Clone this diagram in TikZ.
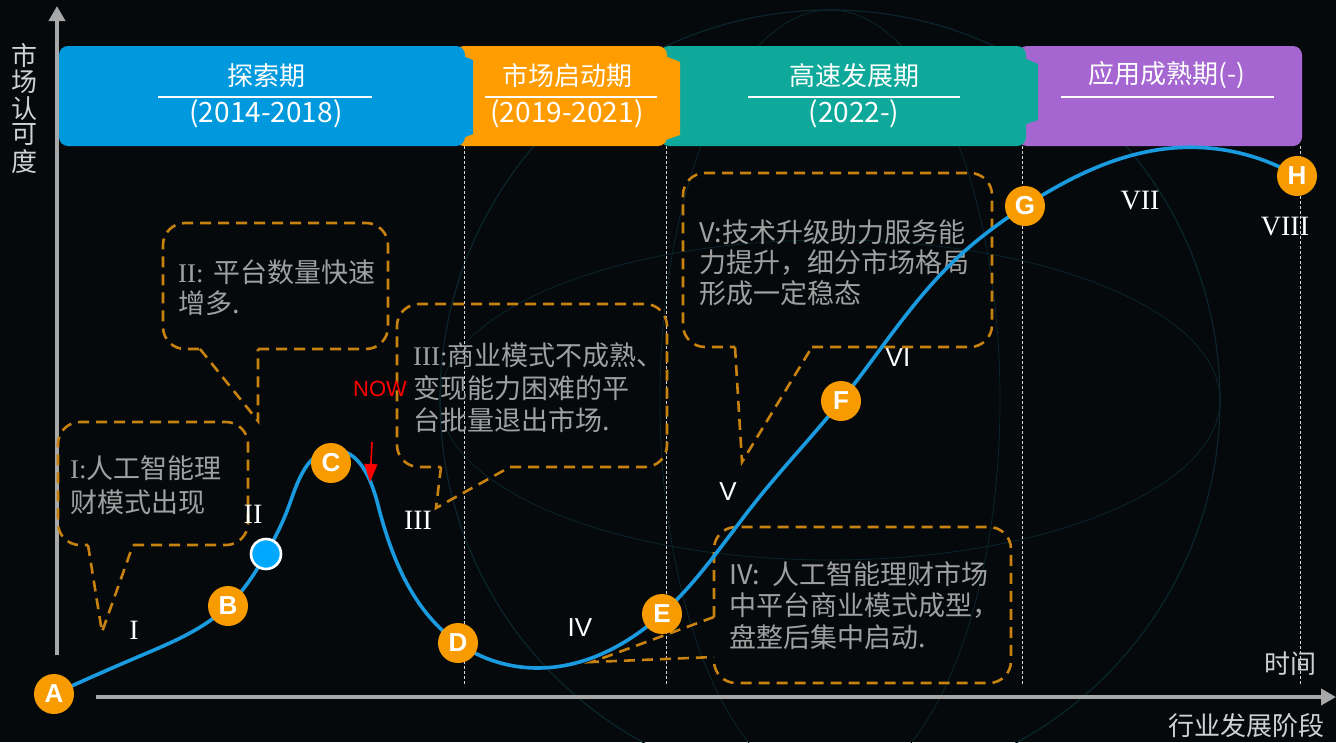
\documentclass[tikz,border=0pt]{standalone}
\usepackage{fontspec}
\setmainfont{Noto Sans CJK SC}
\newfontfamily\cjk{Noto Sans CJK SC}
\newfontfamily\rmn{Liberation Serif}
\newfontfamily\sfn{Liberation Sans}
\usetikzlibrary{arrows.meta,hobby}
\definecolor{bg}{HTML}{05090C}
\definecolor{axisgray}{HTML}{A8A8A8}
\definecolor{hblue}{HTML}{0099DD}
\definecolor{horange}{HTML}{FF9C00}
\definecolor{hteal}{HTML}{0EA99A}
\definecolor{hpurple}{HTML}{A566D1}
\definecolor{curveblue}{HTML}{1A9BE0}
\definecolor{dotorange}{HTML}{F89B00}
\definecolor{calloutc}{HTML}{C8820F}
\definecolor{calltext}{HTML}{A0A0A0}
\definecolor{ptblue}{HTML}{00A9FF}
\definecolor{meshc}{HTML}{0B252D}
\begin{document}
\begin{tikzpicture}[x=1pt,y=-1pt,
  calloutline/.style={draw=calloutc, line width=2.6pt, dash pattern=on 11pt off 7pt},
  boxline/.style={calloutline, rounded corners=22pt},
  ctext/.style={anchor=west, inner sep=0pt, text=calltext, font=\cjk\fontsize{27}{30}\selectfont},
  htext/.style={inner sep=0pt, text=white, font=\cjk\fontsize{26}{30}\selectfont},
  hyear/.style={inner sep=0pt, text=white, font=\cjk\fontsize{28}{30}\selectfont},
  hrule/.style={draw=white, line width=2pt},
  phaseline/.style={draw=white!85!black, line width=0.8pt, dash pattern=on 3pt off 2pt},
  stage/.style={circle, fill=dotorange, minimum size=40pt, inner sep=0pt, text=white, font=\sfn\bfseries\fontsize{26}{26}\selectfont},
  romr/.style={inner sep=0pt, text=white, font=\rmn\fontsize{28}{28}\selectfont},
  roms/.style={inner sep=0pt, text=white, font=\sfn\fontsize{26}{26}\selectfont},
  axisline/.style={draw=axisgray, line width=4pt},
  alabel/.style={inner sep=0pt, text=white!82!black, font=\cjk\fontsize{26}{30}\selectfont},
]
\useasboundingbox (0,0) rectangle (1336,742);
\fill[bg] (0,0) rectangle (1336,742);
% faint globe mesh in the background
\draw[meshc, line width=1.2pt] (830,400) circle (390pt);
\draw[meshc, line width=0.8pt] (830,400) ellipse (390pt and 160pt);
\draw[meshc, line width=0.8pt] (830,400) ellipse (170pt and 390pt);

% header bar
\fill[hpurple, rounded corners=9pt] (1018,46) rectangle (1302,146);
\fill[hteal, rounded corners=9pt] (660,46) rectangle (1026,146);
\fill[hteal] (1024,58) -- (1038,64) -- (1038,120) -- (1024,125) -- cycle;
\fill[horange, rounded corners=9pt] (455,46) rectangle (667,146);
\fill[horange] (665,56) -- (680,62) -- (680,135) -- (665,140) -- cycle;
\fill[hblue, rounded corners=9pt] (59,46) rectangle (465,146);
\fill[hblue] (463,56) -- (473,60) -- (473,134) -- (463,138) -- cycle;

\node[htext] (h1) at (266,76) {探索期};
\draw[hrule] (158,97) -- (372,97);
\node[hyear] (h1y) at (266,114) {(2014-2018)};
\node[htext] (h2) at (567,76) {市场启动期};
\draw[hrule] (485,97) -- (657,97);
\node[hyear] (h2y) at (567,114) {(2019-2021)};
\node[htext] (h3) at (854,76) {高速发展期};
\draw[hrule] (748,97) -- (960,97);
\node[hyear] (h3y) at (854,114) {(2022-)};
\node[htext] (h4) at (1167,75) {应用成熟期(-)};
\draw[hrule] (1061,97) -- (1274,97);

% phase separators
\foreach \px/\nm in {464/s1,666/s2,1022/s3,1300/s4}{
  \coordinate (\nm t) at (\px,146);
  \coordinate (\nm b) at (\px,686);
  \draw[phaseline] (\nm t) -- (\nm b);
}

% axes
\coordinate (yb) at (57,655);
\coordinate (yt) at (57,6);
\coordinate (xl) at (96,697);
\coordinate (xr) at (1336,697);
\draw[axisline, -{Triangle[length=15pt,width=16pt]}] (yb) -- (yt);
\draw[axisline, -{Triangle[length=15pt,width=16pt]}] (xl) -- (xr);
\foreach \ch [count=\i] in {市,场,认,可,度}
  \node[alabel] (ylab\i) at (25,29+26.5*\i) {\ch};
\node[alabel] (tlab) at (1290,664) {时间};
\node[alabel] (xlab) at (1246,726) {行业发展阶段};

% callout I
\coordinate (c1l) at (88,545); \coordinate (c1r) at (133,545); \coordinate (c1t) at (102,632);
\draw[boxline] (c1r) -- (248,545) -- (248,422) -- (58,422) -- (58,545) -- (c1l);
\draw[calloutline] (c1l) -- (c1t) -- (c1r);
\node[ctext] (t1a) at (70,468) {{\rmn I:}人工智能理};
\node[ctext] (t1b) at (70,502) {财模式出现};

% callout II
\coordinate (c2l) at (200,349); \coordinate (c2r) at (258,349); \coordinate (c2t) at (258,421);
\draw[boxline] (c2r) -- (388,349) -- (388,223) -- (163,223) -- (163,349) -- (c2l);
\draw[calloutline] (c2l) -- (c2t) -- (c2r);
\node[ctext] (t2a) at (178,272) {{\rmn II:}\hspace{10pt}平台数量快速};
\node[ctext] (t2b) at (178,303) {增多.};

% callout III
\coordinate (c3l) at (441,467); \coordinate (c3r) at (510,467); \coordinate (c3t) at (436,508);
\draw[boxline] (c3r) -- (667,467) -- (667,304) -- (397,304) -- (397,467) -- (c3l);
\draw[calloutline] (c3l) -- (c3t) -- (c3r);
\node[ctext] (t3a) at (413,355) {{\rmn III:}商业模式不成熟、};
\node[ctext] (t3b) at (413,388) {变现能力困难的平};
\node[ctext] (t3c) at (413,420) {台批量退出市场.};

% callout V
\coordinate (c5l) at (735,347); \coordinate (c5r) at (812,347); \coordinate (c5t) at (742,462);
\draw[boxline] (c5r) -- (992,347) -- (992,173) -- (683,173) -- (683,347) -- (c5l);
\draw[calloutline] (c5l) -- (c5t) -- (c5r);
\node[ctext] (t5a) at (699,232) {V:技术升级助力服务能};
\node[ctext] (t5b) at (699,262) {力提升，细分市场格局};
\node[ctext] (t5c) at (699,293) {形成一定稳态};

% callout IV
\coordinate (c4u) at (714,617); \coordinate (c4d) at (714,657); \coordinate (c4t) at (592,662);
\draw[boxline] (c4u) -- (714,527) -- (1011,527) -- (1011,683) -- (714,683) -- (c4d);
\draw[calloutline] (c4u) -- (c4t) -- (c4d);
\node[ctext] (t4a) at (729,574) {IV:\hspace{12pt}人工智能理财市场};
\node[ctext] (t4b) at (729,606) {中平台商业模式成型，};
\node[ctext] (t4c) at (729,637) {盘整后集中启动.};

% curve
\coordinate (pA) at (54,694);
\coordinate (pB) at (228,606);
\coordinate (pP) at (266,554);
\coordinate (pC) at (331,463);
\coordinate (pD) at (458,643);
\coordinate (pE) at (662,614);
\coordinate (pF) at (841,401);
\coordinate (pG) at (1025,206);
\coordinate (pH) at (1297,176);
\draw[curveblue, line width=3.6pt, use Hobby shortcut]
  (pA) .. (140,656) .. (pB) .. (pP) .. (290,503) .. (333,450)
  .. (378,505) .. (pD) .. (539,668) .. (pE) .. (757,500) .. (pF)
  .. (955,260) .. (pG) .. (1173,148) .. (pH);

% stage points
\node[stage] (A) at (pA) {A};
\node[stage] (B) at (pB) {B};
\node[circle, fill=ptblue, draw=white, line width=2.6pt, minimum size=30pt, inner sep=0pt] (P) at (pP) {};
\node[stage] (C) at (pC) {C};
\node[stage] (D) at (pD) {D};
\node[stage] (E) at (pE) {E};
\node[stage] (F) at (pF) {F};
\node[stage] (G) at (pG) {G};
\node[stage] (H) at (pH) {H};

% NOW marker
\node[inner sep=0pt, text=red, font=\sfn\fontsize{22}{22}\selectfont] (now) at (380,389) {NOW};
\coordinate (nowa) at (372,442);
\coordinate (nowb) at (370,482);
\draw[red, line width=1.6pt, -{Triangle[length=18pt,width=13pt]}] (nowa) -- (nowb);

% stage numerals
\node[romr] (r1) at (134,630) {I};
\node[romr] (r2) at (253,514) {II};
\node[romr] (r3) at (418,520) {III};
\node[roms] (r4) at (580,628) {IV};
\node[roms] (r5) at (728,492) {V};
\node[roms] (r6) at (898,358) {VI};
\node[romr] (r7) at (1140,201) {VII};
\node[romr] (r8) at (1285,227) {VIII};
\end{tikzpicture}
\end{document}
